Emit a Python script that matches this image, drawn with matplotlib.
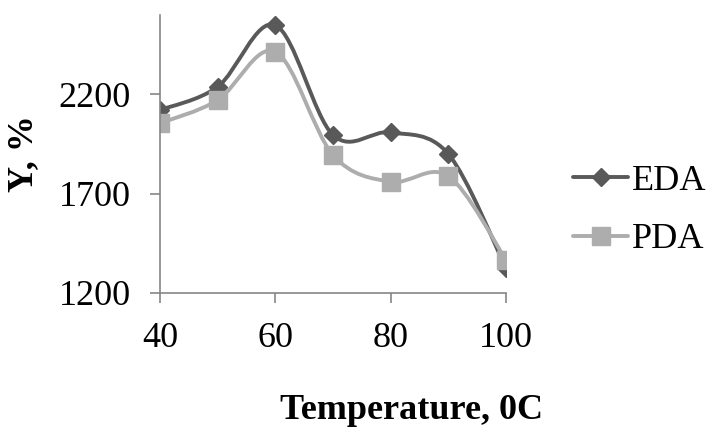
import matplotlib
matplotlib.use("Agg")
import matplotlib.pyplot as plt
from matplotlib.path import Path
from matplotlib.patches import PathPatch
from matplotlib.lines import Line2D
import numpy as np

plt.rcParams['font.family'] = ['Liberation Serif', 'DejaVu Serif']

# data
temperature = [40, 50, 60, 70, 80, 90, 100]
eda = [2121, 2238, 2549, 1995, 2008, 1899, 1323]
pda = [2054, 2171, 2415, 1894, 1759, 1788, 1365]
yticks = [1200, 1700, 2200]
xticks = [40, 60, 80, 100]

EDA_COLOR = '#595959'
PDA_COLOR = '#adadad'
AXIS_COLOR = '#868686'
FS = 26


def smooth_path(x, y):
    # Excel-style smoothed line: cubic bezier with Catmull-Rom control points
    pts = np.column_stack([x, y]).astype(float)
    n = len(pts)
    verts = [pts[0]]
    codes = [Path.MOVETO]
    for i in range(n - 1):
        p_prev = pts[i - 1] if i > 0 else pts[i]
        p_next = pts[i + 2] if i + 2 < n else pts[i + 1]
        c1 = pts[i] + (pts[i + 1] - p_prev) / 6
        c2 = pts[i + 1] - (p_next - pts[i]) / 6
        verts += [c1, c2, pts[i + 1]]
        codes += [Path.CURVE4] * 3
    return Path(verts, codes)


fig = plt.figure(figsize=(7.12, 4.32), dpi=100)
ax = fig.add_axes([0.2247, 0.3225, 0.4860, 0.6428])

series = [
    ('EDA', eda, EDA_COLOR, 'D', 9.5),
    ('PDA', pda, PDA_COLOR, 's', 13.5),
]
handles = []
for name, vals, col, mk, ms in series:
    ax.add_patch(PathPatch(smooth_path(temperature, vals), fill=False,
                           edgecolor=col, lw=2.8, capstyle='round',
                           joinstyle='round'))
    ax.plot(temperature, vals, ls='none', marker=mk, ms=ms,
            color=col, mec=col, mew=1)
    handles.append(Line2D([], [], color=col, lw=2.8, marker=mk, ms=ms,
                          mec=col, mew=1, solid_capstyle='round'))

ax.set_xlim(40, 100)
ax.set_ylim(1200, 2600)
ax.set_xticks(xticks)
ax.set_yticks(yticks)

for side in ['top', 'right']:
    ax.spines[side].set_visible(False)
for side in ['left', 'bottom']:
    ax.spines[side].set_color(AXIS_COLOR)
    ax.spines[side].set_linewidth(1.2)
ax.tick_params(axis='both', direction='out', length=7, width=1.2,
               color=AXIS_COLOR, labelsize=FS, pad=14)

ax.set_xlabel('Temperature, 0C', fontsize=FS, fontweight='bold')
ax.xaxis.set_label_coords(0.728, -0.365)
ax.set_ylabel('Y, %', fontsize=FS, fontweight='bold')
ax.yaxis.set_label_coords(-0.347, 0.5)

ax.legend(handles, ['EDA', 'PDA'], loc='center left',
          bbox_to_anchor=(1.194, 0.296), frameon=False, fontsize=FS,
          handlelength=1.52, handletextpad=0.11, labelspacing=0.69,
          borderpad=0, borderaxespad=0)

fig.savefig('out.png', dpi=100)
